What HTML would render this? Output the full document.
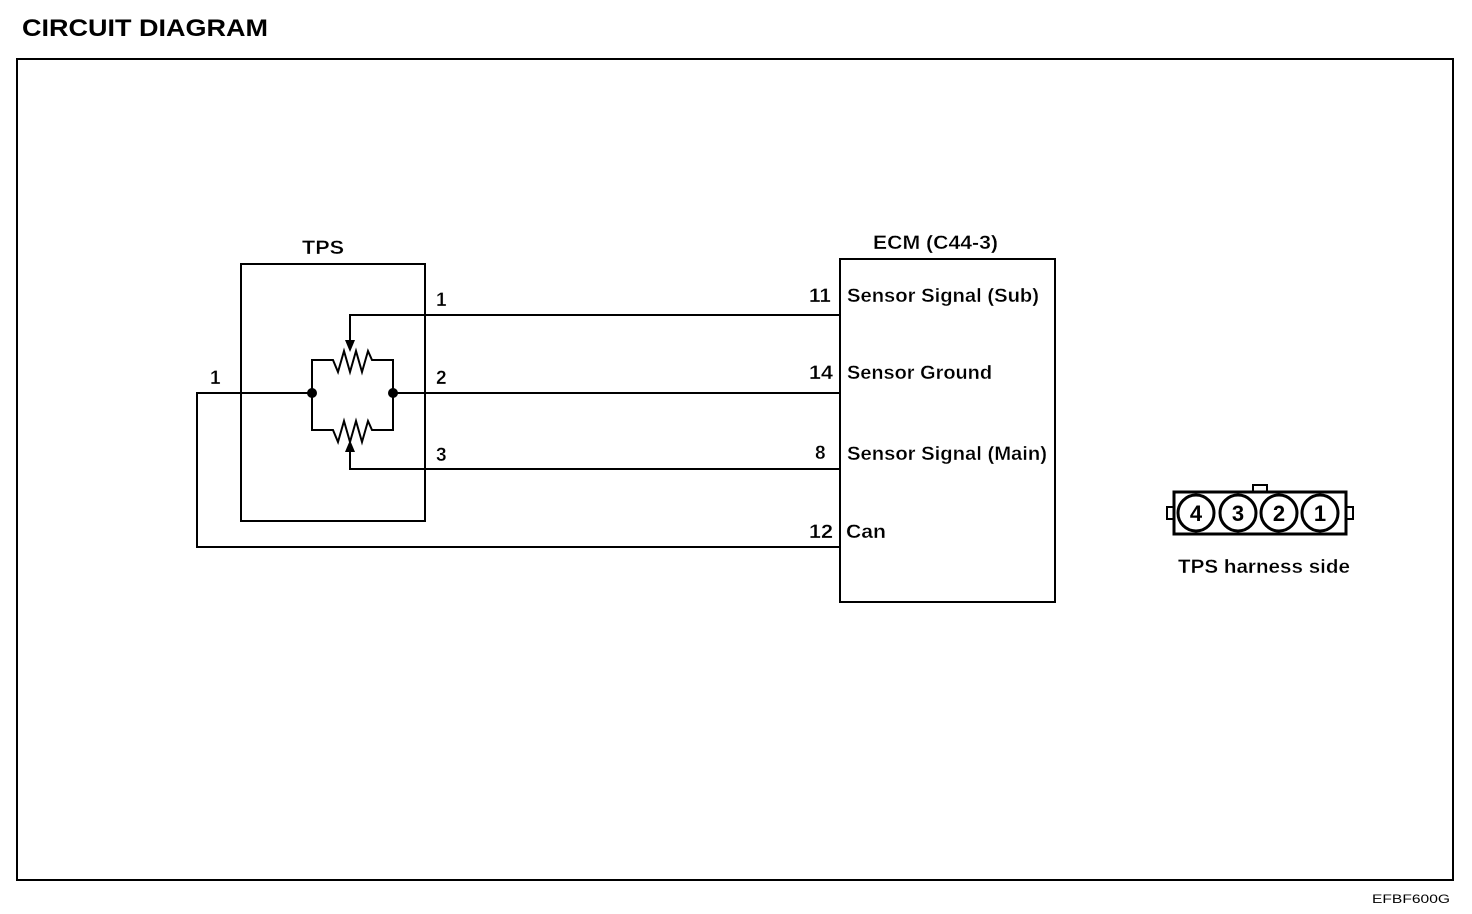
<!DOCTYPE html>
<html><head><meta charset="utf-8"><style>
html,body{margin:0;padding:0;background:#fff;}
svg{display:block;}
text{font-family:"Liberation Sans",Arial,sans-serif;fill:#000;}
</style></head><body>
<svg width="1472" height="914" viewBox="0 0 1472 914" xmlns="http://www.w3.org/2000/svg">
<text x="22" y="36" font-size="24" font-weight="bold" textLength="246" lengthAdjust="spacingAndGlyphs">CIRCUIT  DIAGRAM</text>
<rect x="17" y="59" width="1436" height="821" fill="none" stroke="#000" stroke-width="2"/>
<g fill="none" stroke="#000" stroke-width="2">
<rect x="241" y="264" width="184" height="257"/>
<rect x="840" y="259" width="215" height="343"/>
<polyline points="840,315 350,315 350,342"/>
<line x1="393" y1="393" x2="840" y2="393"/>
<polyline points="840,469 350,469 350,450"/>
<polyline points="312,393 197,393 197,547 840,547"/>
<polyline points="312,393 312,360 333,360 338,372 344,351 350,372 356,351 362,372 368,351 372,360 393,360 393,393"/>
<polyline points="312,393 312,430 333,430 338,442 344,421 350,442 356,421 362,442 368,421 372,430 393,430 393,393"/>
</g>
<polygon points="345,340 355,340 350,352" fill="#000"/>
<polygon points="345,452 355,452 350,440" fill="#000"/>
<circle cx="312" cy="393" r="5" fill="#000"/>
<circle cx="393" cy="393" r="5" fill="#000"/>
<g font-size="19" font-weight="bold" stroke="#fff" stroke-width="0.3">
<text x="302" y="254" textLength="42" lengthAdjust="spacingAndGlyphs">TPS</text>
<text x="873" y="249" textLength="125" lengthAdjust="spacingAndGlyphs">ECM (C44-3)</text>
<text x="436" y="306">1</text>
<text x="436" y="384">2</text>
<text x="436" y="461">3</text>
<text x="210" y="384">1</text>
<text x="809" y="302" textLength="22" lengthAdjust="spacingAndGlyphs">11</text>
<text x="809" y="379" textLength="24" lengthAdjust="spacingAndGlyphs">14</text>
<text x="815" y="459">8</text>
<text x="809" y="538" textLength="24" lengthAdjust="spacingAndGlyphs">12</text>
<text x="847" y="302" textLength="192" lengthAdjust="spacingAndGlyphs">Sensor Signal (Sub)</text>
<text x="847" y="379" textLength="145" lengthAdjust="spacingAndGlyphs">Sensor Ground</text>
<text x="847" y="460" textLength="200" lengthAdjust="spacingAndGlyphs">Sensor Signal (Main)</text>
<text x="846" y="538" textLength="40" lengthAdjust="spacingAndGlyphs">Can</text>
<text x="1178" y="573" textLength="172" lengthAdjust="spacingAndGlyphs">TPS harness side</text>
</g>
<text x="1372" y="903" font-size="12" textLength="78" lengthAdjust="spacingAndGlyphs">EFBF600G</text>
<g fill="none" stroke="#000" stroke-width="3">
<rect x="1174" y="492" width="172" height="42"/>
<rect x="1253" y="485" width="14" height="7" stroke-width="2"/>
<rect x="1167" y="507" width="7" height="12" stroke-width="2"/>
<rect x="1346" y="507" width="7" height="12" stroke-width="2"/>
<circle cx="1196" cy="513" r="18"/>
<circle cx="1238" cy="513" r="18"/>
<circle cx="1279" cy="513" r="18"/>
<circle cx="1320" cy="513" r="18"/>
</g>
<g font-size="22" font-weight="bold" text-anchor="middle">
<text x="1196" y="521">4</text>
<text x="1238" y="521">3</text>
<text x="1279" y="521">2</text>
<text x="1320" y="521">1</text>
</g>
</svg>
</body></html>
